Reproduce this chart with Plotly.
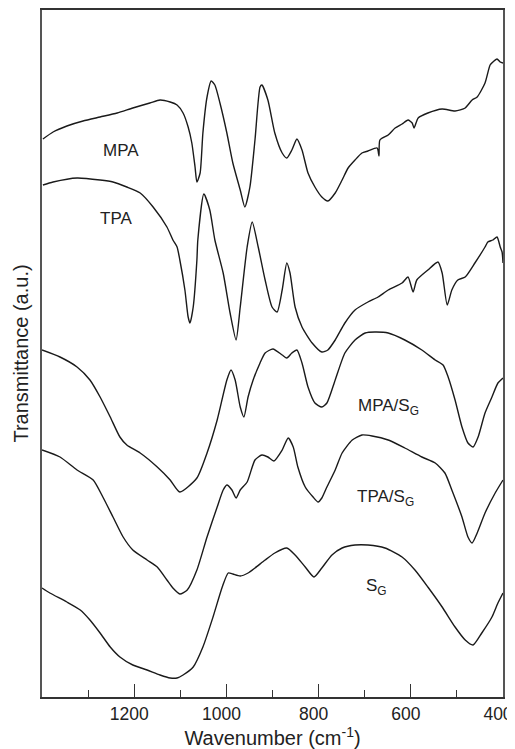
import plotly.graph_objects as go

# Wavenumber (cm-1) and transmittance (a.u., curves offset vertically)
mpa_wn = [1398, 1376, 1346, 1311, 1274, 1237, 1203, 1166, 1144, 1122, 1107, 1094, 1083, 1075, 1068, 1064, 1057, 1051, 1042, 1033, 1025, 1014, 999, 986, 970, 960, 949, 938, 927, 923, 910, 895, 879, 869, 858, 847, 836, 823, 808, 793, 780, 764, 749, 736, 721, 706, 693, 673, 669, 667, 649, 634, 619, 606, 597, 593, 584, 563, 532, 504, 482, 467, 456, 439, 428, 422, 413, 406, 400]
mpa_t = [558, 565, 571, 576, 580, 584, 589, 594, 597, 595, 592, 584, 570, 554, 530, 515, 524, 564, 600, 616, 612, 594, 564, 534, 507, 490, 510, 557, 610, 612, 597, 564, 544, 539, 547, 558, 547, 524, 510, 500, 496, 504, 517, 529, 537, 544, 546, 549, 541, 557, 562, 569, 573, 577, 574, 569, 579, 584, 588, 586, 589, 597, 600, 614, 632, 635, 638, 635, 634]

tpa_wn = [1398, 1376, 1324, 1274, 1246, 1216, 1187, 1159, 1129, 1116, 1107, 1101, 1090, 1083, 1079, 1072, 1064, 1062, 1049, 1036, 1025, 1007, 992, 979, 970, 955, 944, 931, 916, 901, 890, 879, 869, 862, 851, 836, 814, 793, 780, 764, 743, 721, 693, 671, 649, 619, 606, 595, 587, 563, 541, 532, 521, 511, 498, 482, 461, 439, 433, 422, 413, 406, 402, 400]
tpa_t = [512, 515, 519, 517, 515, 510, 504, 490, 470, 457, 450, 437, 407, 380, 374, 390, 437, 457, 503, 487, 457, 424, 384, 357, 390, 450, 475, 450, 417, 390, 385, 407, 434, 424, 390, 370, 354, 345, 347, 357, 374, 387, 395, 400, 407, 414, 420, 405, 417, 427, 435, 424, 392, 407, 417, 420, 434, 450, 455, 457, 460, 450, 445, 434]

mpasg_wn = [1400, 1361, 1324, 1296, 1274, 1252, 1231, 1216, 1187, 1150, 1122, 1101, 1064, 1042, 1020, 999, 990, 981, 970, 962, 953, 942, 927, 916, 899, 879, 869, 858, 847, 836, 823, 808, 793, 782, 764, 743, 721, 699, 678, 649, 613, 576, 547, 530, 519, 504, 489, 476, 465, 454, 439, 424, 411, 400]
mpasg_t = [347, 340, 330, 317, 300, 280, 260, 252, 244, 230, 217, 205, 219, 244, 277, 317, 327, 317, 290, 280, 300, 317, 334, 344, 348, 342, 339, 344, 347, 334, 310, 294, 290, 294, 317, 344, 357, 364, 365, 364, 357, 347, 337, 332, 320, 297, 270, 254, 250, 260, 284, 300, 314, 319]

tpasg_wn = [1400, 1361, 1324, 1289, 1268, 1246, 1224, 1203, 1172, 1150, 1129, 1116, 1101, 1085, 1064, 1042, 1020, 1007, 999, 988, 979, 970, 955, 938, 923, 910, 897, 879, 866, 855, 845, 829, 812, 801, 793, 782, 764, 749, 727, 706, 684, 649, 613, 576, 547, 526, 511, 489, 476, 467, 456, 439, 417, 400]
tpasg_t = [247, 240, 227, 217, 200, 180, 160, 147, 137, 130, 117, 109, 103, 107, 127, 160, 190, 207, 212, 207, 199, 207, 215, 237, 242, 240, 236, 247, 259, 250, 230, 210, 200, 195, 199, 210, 227, 244, 257, 262, 261, 257, 249, 240, 234, 224, 207, 180, 160, 154, 164, 184, 204, 217]

sg_wn = [1400, 1383, 1346, 1317, 1296, 1274, 1252, 1231, 1203, 1172, 1144, 1122, 1107, 1094, 1072, 1051, 1029, 1009, 996, 986, 970, 953, 938, 916, 895, 869, 851, 829, 810, 793, 771, 749, 721, 693, 656, 619, 591, 563, 532, 504, 482, 465, 446, 424, 411, 400]
sg_t = [109, 104, 95, 87, 77, 64, 50, 40, 32, 27, 22, 19, 19, 22, 30, 50, 80, 110, 124, 123, 121, 124, 129, 137, 144, 149, 142, 130, 120, 129, 142, 149, 152, 152, 149, 140, 127, 110, 90, 70, 57, 52, 64, 80, 94, 104]

tick_vals = [1200, 1000, 800, 600, 400]
tick_text = ["1200", "1000", "800", "600", "400"]

label_text = ["MPA", "TPA", "MPA/S<sub>G</sub>", "TPA/S<sub>G</sub>", "S<sub>G</sub>"]
label_wn = [1229, 1239, 649, 654, 675]
label_t = [547, 479, 290, 199, 110]

FONT = "Liberation Sans, Arial, sans-serif"
fig = go.Figure()
for wn, t in [(mpa_wn, mpa_t), (tpa_wn, tpa_t), (mpasg_wn, mpasg_t), (tpasg_wn, tpasg_t), (sg_wn, sg_t)]:
    fig.add_trace(go.Scatter(x=wn, y=t, mode="lines", line=dict(color="#1a1a1a", width=1.4, shape="spline", smoothing=0.6), showlegend=False, hoverinfo="skip"))

for txt, x, y in zip(label_text, label_wn, label_t):
    fig.add_annotation(x=x, y=y, text=txt, showarrow=False, font=dict(family=FONT, size=17, color="#222"))

# page body has an 8px default margin, so the figure is sized to end at the window edge
fig.update_layout(
    width=507, height=741,
    margin=dict(l=34, r=12, t=2, b=52),
    paper_bgcolor="white", plot_bgcolor="white",
    font=dict(family=FONT, color="#222"),
)
fig.update_xaxes(
    range=[1400, 400], tickvals=tick_vals, ticktext=tick_text,
    ticks="inside", ticklen=13, tickwidth=1.3, tickcolor="#333",
    minor=dict(ticks="inside", ticklen=7, tickwidth=1.3, tickcolor="#333", dtick=100, tick0=400, showgrid=False),
    showline=True, linecolor="#333", linewidth=1.5, mirror=True, showgrid=False, zeroline=False,
    tickfont=dict(size=17.5, family=FONT, color="#222"),
    ticklabeloverflow="allow", ticklabelshift=5,
    title=dict(text="Wavenumber (cm<sup>-1</sup>)", font=dict(size=20, family=FONT, color="#222"), standoff=1),
    automargin=False,
)
fig.update_yaxes(
    range=[0, 687], showticklabels=False, ticks="",
    showline=True, linecolor="#555", linewidth=1.5, mirror=True, showgrid=False, zeroline=False,
    title=dict(text="Transmittance (a.u.)", font=dict(size=20, family=FONT, color="#222"), standoff=6),
    automargin=False,
)
fig.write_html("out.html")
